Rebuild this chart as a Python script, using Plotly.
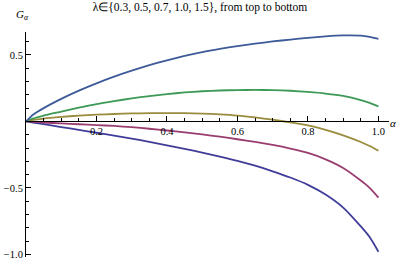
import plotly.graph_objects as go

alpha = [0, 0.02, 0.05, 0.1, 0.15, 0.2, 0.25, 0.3, 0.35, 0.4, 0.45, 0.5, 0.55, 0.6, 0.65,
         0.7, 0.75, 0.8, 0.85, 0.9, 0.95, 0.975, 1.0]

g_lam03 = [0, 0.05, 0.1, 0.17, 0.232, 0.287, 0.337, 0.382, 0.423, 0.46, 0.493, 0.522, 0.546,
           0.567, 0.585, 0.602, 0.616, 0.629, 0.64, 0.647, 0.645, 0.636, 0.621]
g_lam05 = [0, 0.022, 0.044, 0.074, 0.104, 0.131, 0.153, 0.173, 0.191, 0.206, 0.218, 0.227, 0.233,
           0.236, 0.237, 0.236, 0.231, 0.222, 0.21, 0.192, 0.161, 0.14, 0.114]
g_lam07 = [0, 0.011, 0.022, 0.034, 0.044, 0.051, 0.056, 0.060, 0.062, 0.063, 0.062, 0.059, 0.053,
           0.044, 0.03, 0.013, -0.007, -0.03, -0.064, -0.105, -0.155, -0.185, -0.22]
g_lam10 = [0, -0.003, -0.008, -0.015, -0.021, -0.027, -0.034, -0.043, -0.055, -0.068, -0.082,
           -0.098, -0.115, -0.134, -0.154, -0.177, -0.204, -0.237, -0.285, -0.35, -0.445, -0.5, -0.573]
g_lam15 = [0, -0.009, -0.021, -0.042, -0.063, -0.085, -0.106, -0.129, -0.154, -0.18, -0.206,
           -0.234, -0.264, -0.296, -0.333, -0.375, -0.422, -0.477, -0.55, -0.648, -0.79, -0.87, -0.98]

series = [
    ("λ=1.5", g_lam15, "#3F3D99"),
    ("λ=1.0", g_lam10, "#993D71"),
    ("λ=0.7", g_lam07, "#998C3D"),
    ("λ=0.5", g_lam05, "#3D9956"),
    ("λ=0.3", g_lam03, "#3D5A99"),
]

x_major = [0.2, 0.4, 0.6, 0.8, 1.0]
x_major_text = ["0.2", "0.4", "0.6", "0.8", "1.0"]
y_major = [-1.0, -0.5, 0.5]
y_major_text = ["−1.0", "−0.5", "0.5"]

x_minor = [round(0.05 * i, 2) for i in range(1, 21) if i % 4 != 0]
y_minor = [round(-1.0 + 0.1 * i, 1) for i in range(0, 17) if i % 5 != 0]

fig = go.Figure()
for name, ys, col in series:
    fig.add_trace(go.Scatter(x=alpha, y=ys, mode="lines", name=name,
                             line=dict(color=col, width=1.8, shape="spline", smoothing=0.6),
                             showlegend=False))

ymin, ymax = -1.02, 0.673
serif = "Liberation Serif"

fig.update_layout(
    width=400, height=264,
    margin=dict(l=23, r=11, t=32, b=4),
    paper_bgcolor="white", plot_bgcolor="white",
    title=dict(text="λ∈{0.3, 0.5, 0.7, 1.0, 1.5}, from top to bottom",
               x=0.5, xref="container", xanchor="center",
               y=1 - 7 / 264, yref="container", yanchor="middle",
               font=dict(family=serif, size=11.5, color="black")),
    xaxis=dict(range=[0, 1.03], anchor="free", position=(0 - ymin) / (ymax - ymin),
               showline=True, linecolor="black", linewidth=1,
               showgrid=False, zeroline=False,
               ticks="inside", ticklen=5, tickcolor="black", tickwidth=1,
               tickmode="array", tickvals=x_major, ticktext=x_major_text,
               tickfont=dict(family=serif, size=10.5, color="black"),
               minor=dict(tickmode="array", tickvals=x_minor, ticks="inside", ticklen=3,
                          tickcolor="black", showgrid=False)),
    yaxis=dict(range=[ymin, ymax], anchor="x",
               showline=True, linecolor="black", linewidth=1,
               showgrid=False, zeroline=False,
               ticks="inside", ticklen=5, tickcolor="black", tickwidth=1,
               tickmode="array", tickvals=y_major, ticktext=y_major_text,
               tickfont=dict(family=serif, size=10.5, color="black"),
               minor=dict(tickmode="array", tickvals=y_minor, ticks="inside", ticklen=3,
                          tickcolor="black", showgrid=False)),
    annotations=[
        dict(text="<i>G</i><sub><i>α</i></sub>", xref="paper", yref="paper",
             x=(19 - 23) / 366, y=(260 - 15) / 228, xanchor="center", yanchor="middle",
             showarrow=False, font=dict(family=serif, size=11, color="black")),
        dict(text="<i>α</i>", xref="paper", yref="paper",
             x=(393 - 23) / 366, y=(260 - 124) / 228, xanchor="center", yanchor="middle",
             showarrow=False, font=dict(family=serif, size=11, color="black")),
    ],
)

fig.write_html("out.html")
